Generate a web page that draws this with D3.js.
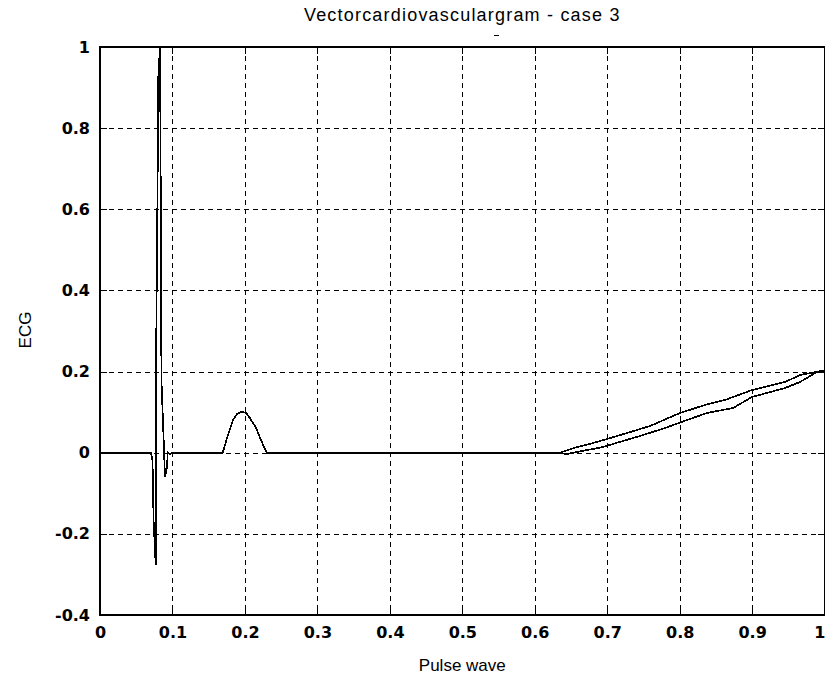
<!DOCTYPE html>
<html>
<head>
<meta charset="utf-8">
<script src="https://cdn.jsdelivr.net/npm/d3@7"></script>
<style>
  html, body { margin: 0; padding: 0; background: #fff; }
  svg { display: block; }
</style>
</head>
<body>
<script>
// ---- data ----
const titleText = "Vectorcardiovasculargram - case 3";
const xLabelText = "Pulse wave";
const yLabelText = "ECG";
const xTicks = [0, 0.1, 0.2, 0.3, 0.4, 0.5, 0.6, 0.7, 0.8, 0.9, 1];
const xTickLabels = ["0", "0.1", "0.2", "0.3", "0.4", "0.5", "0.6", "0.7", "0.8", "0.9", "1"];
const yTicks = [-0.4, -0.2, 0, 0.2, 0.4, 0.6, 0.8, 1];
const yTickLabels = ["-0.4", "-0.2", "0", "0.2", "0.4", "0.6", "0.8", "1"];

// parametric curve: pulse wave (x) vs ECG (y)
const pulseWave = [
  0, 0.0704, 0.0725, 0.0740, 0.0769, 0.0778, 0.0800, 0.0796, 0.0828,
  0.0835, 0.0848, 0.0897, 0.0925, 0.0935, 0.0966, 0.1000, 0.1693,
  0.1753, 0.1836, 0.1891, 0.1955, 0.2015, 0.2070, 0.2153, 0.2222, 0.2300,
  0.6348, 0.6583, 0.6804, 0.6997, 0.7273, 0.7590, 0.8004, 0.8349, 0.8625,
  0.8998, 0.9454, 0.9661, 1.0000,
  0.9868, 0.9661, 0.9454, 0.8998, 0.8736, 0.8377, 0.8101, 0.7798, 0.7452,
  0.7121, 0.6942, 0.6652, 0.6445, 0.6300
];
const ecg = [
  0, 0, -0.02, -0.17, -0.277, 0.31, 0.78, 0.897, 1.0,
  0.78, 0.18, -0.06, -0.035, 0, -0.004, 0, 0,
  0.036, 0.081, 0.095, 0.1016, 0.098, 0.0855, 0.061, 0.031, 0,
  0, 0.0140, 0.0239, 0.0338, 0.0486, 0.0658, 0.0979, 0.1176, 0.1299,
  0.1545, 0.1743, 0.1915, 0.2030,
  0.1964, 0.1743, 0.1595, 0.1373, 0.1102, 0.0979, 0.0806, 0.0609, 0.0412,
  0.0239, 0.0140, 0.0042, -0.0032, 0
];

// ---- layout ----
const W = 825, H = 684;
const pL = 100, pR = 824.6, pT = 47, pB = 615;

const svg = d3.select("body").append("svg")
  .attr("width", W).attr("height", H)
  .style("background", "#fff");

const x = d3.scaleLinear().domain([0, 1]).range([pL, pR]);
const y = d3.scaleLinear().domain([-0.4, 1]).range([pB, pT]);

// clip
svg.append("defs").append("clipPath").attr("id", "plotclip")
  .append("rect").attr("x", pL).attr("y", pT)
  .attr("width", pR - pL).attr("height", pB - pT);

// grid
const grid = svg.append("g").attr("shape-rendering", "crispEdges")
  .attr("stroke", "#000").attr("stroke-width", 1).attr("stroke-dasharray", "5,4");
grid.selectAll("line.gx").data(xTicks.slice(1, -1)).join("line")
  .attr("x1", d => Math.round(x(d)) + 0.5).attr("x2", d => Math.round(x(d)) + 0.5)
  .attr("y1", pT).attr("y2", pB);
grid.selectAll("line.gy").data(yTicks.slice(1, -1)).join("line")
  .attr("y1", d => Math.round(y(d)) + 0.5).attr("y2", d => Math.round(y(d)) + 0.5)
  .attr("x1", pL).attr("x2", pR);

// data curve
const line = d3.line().x(d => x(d[0])).y(d => y(d[1]));
const pts = pulseWave.map((v, i) => [v, ecg[i]]);
svg.append("path")
  .attr("clip-path", "url(#plotclip)")
  .attr("d", line(pts))
  .attr("fill", "none").attr("stroke", "#000").attr("stroke-width", 1.7)
  .attr("shape-rendering", "crispEdges");

// axes
const tickFont = "DejaVu Sans, sans-serif";
const xAxis = d3.axisBottom(x).tickValues(xTicks)
  .tickFormat((d, i) => xTickLabels[i]).tickSize(-7).tickPadding(12);
const yAxis = d3.axisLeft(y).tickValues(yTicks)
  .tickFormat((d, i) => yTickLabels[i]).tickSize(-7).tickPadding(10);
const xAxisTop = d3.axisTop(x).tickValues(xTicks).tickFormat("").tickSize(-7);
const yAxisRight = d3.axisRight(y).tickValues(yTicks).tickFormat("").tickSize(-7);

function styleAxis(g) {
  g.attr("shape-rendering", "crispEdges");
  g.select(".domain").remove();
  g.selectAll(".tick line").attr("stroke", "#000").attr("stroke-width", 1);
  g.selectAll(".tick text").attr("fill", "#000")
    .style("font-family", tickFont).style("font-size", "16px").style("font-weight", "bold");
}
const gx = svg.append("g").attr("transform", `translate(0,${pB})`).call(xAxis).call(styleAxis);
// keep the last label ("1") inside the window, like the reference
gx.selectAll(".tick text").filter(d => d === 1).attr("text-anchor", "end").attr("x", 0.4);
svg.append("g").attr("transform", `translate(${pL},0)`).call(yAxis).call(styleAxis);
svg.append("g").attr("transform", `translate(0,${pT})`).call(xAxisTop).call(styleAxis);
svg.append("g").attr("transform", `translate(${pR},0)`).call(yAxisRight).call(styleAxis);
// box
svg.append("rect").attr("x", pL).attr("y", pT)
  .attr("width", pR - pL).attr("height", pB - pT)
  .attr("fill", "none").attr("stroke", "#000").attr("stroke-width", 1.5)
  .attr("shape-rendering", "crispEdges");

// title & labels
const labelFont = "Liberation Sans, Arial, sans-serif";
svg.append("text").attr("x", (pL + pR) / 2).attr("y", 21)
  .attr("text-anchor", "middle").style("font-family", labelFont)
  .style("font-size", "18px").style("letter-spacing", "1.2px")
  .text(titleText);
svg.append("line").attr("x1", 494).attr("x2", 499).attr("y1", 35.5).attr("y2", 35.5)
  .attr("stroke", "#000").attr("stroke-width", 1).attr("shape-rendering", "crispEdges");
svg.append("text").attr("x", (pL + pR) / 2).attr("y", 671)
  .attr("text-anchor", "middle").style("font-family", labelFont)
  .style("font-size", "17px").text(xLabelText);
svg.append("text").attr("transform", `translate(31,${(pT + pB) / 2 - 1}) rotate(-90)`)
  .attr("text-anchor", "middle").style("font-family", labelFont)
  .style("font-size", "17px").text(yLabelText);
</script>
</body>
</html>
